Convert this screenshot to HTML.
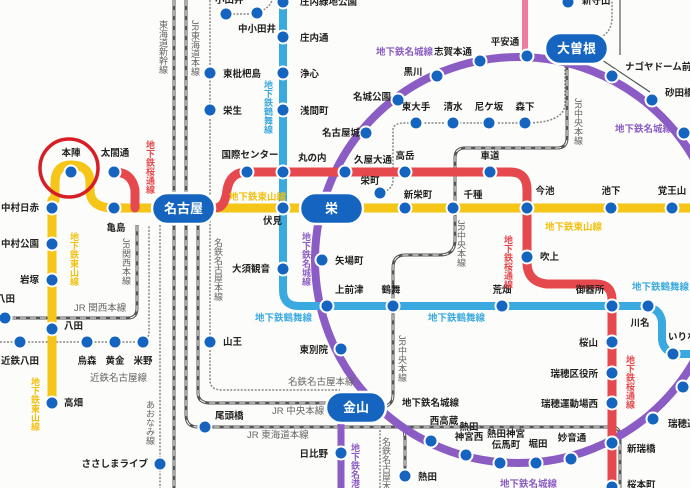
<!DOCTYPE html>
<html><head><meta charset="utf-8"><style>
html,body{margin:0;padding:0;background:#fcfcfa;}
svg{display:block;}
text{font-family:"Liberation Sans","Noto Sans CJK JP",sans-serif;font-weight:bold;font-size:9.5px;fill:#222;}
.v{writing-mode:vertical-rl;font-size:9px;}
.g{fill:#666;font-weight:normal;}
.y{fill:#f2c10f;}.r{fill:#e5484d;}.b{fill:#3aa9e0;}.p{fill:#8b5cc4;}
.pill{font-size:13px;fill:#fff;}
</style></head><body>
<svg width="690" height="488" viewBox="0 0 690 488" xmlns="http://www.w3.org/2000/svg">
<rect width="690" height="488" fill="#fcfcfa"/>
<g fill="none">
 <path d="M174 0 V488" stroke="#555" stroke-width="3"/><path d="M174 0 V488" stroke="#fff" stroke-width="1" stroke-dasharray="6,4"/>
 <path d="M186 0 V415 Q186 427 198 427 H612 Q620 427 620 437 V488" stroke="#555" stroke-width="3"/>
 <path d="M186 0 V415 Q186 427 198 427 H612 Q620 427 620 437 V488" stroke="#fff" stroke-width="1" stroke-dasharray="6,4"/>
 <path d="M198 220 V393 Q198 403 210 403 H340" stroke="#555" stroke-width="3"/>
 <path d="M198 220 V393 Q198 403 210 403 H340" stroke="#fff" stroke-width="1" stroke-dasharray="6,4"/>
 <path d="M210 0 V380 Q210 390 222 390 H340" stroke="#888" stroke-width="1.5" stroke-dasharray="2,1.5"/>
 <path d="M226 14 H257" stroke="#888" stroke-width="1.5" stroke-dasharray="2,1.5"/>
 <path d="M257 13 Q270 8 272 0" stroke="#888" stroke-width="1.5" stroke-dasharray="2,1.5"/>
 <path d="M380 430 V488" stroke="#888" stroke-width="1.5" stroke-dasharray="2,1.5"/>
 <path d="M0 318 H128 Q137 318 137 308 V225" stroke="#555" stroke-width="3"/>
 <path d="M0 318 H128 Q137 318 137 308 V225" stroke="#fff" stroke-width="1" stroke-dasharray="6,4"/>
 <path d="M0 342 H143 Q149 340 149 330 V225" stroke="#888" stroke-width="1.5" stroke-dasharray="2,1.5"/>
 <path d="M160 225 V488" stroke="#888" stroke-width="1.5" stroke-dasharray="2,1.5"/>
 <path d="M380 193 Q393 190 393 180 V130 Q393 123 405 123 H525 Q563 123 565 105 V60" stroke="#888" stroke-width="1.5" stroke-dasharray="2,1.5"/>
 <path d="M590 40 Q610 38 612 20 V0" stroke="#888" stroke-width="1.5" stroke-dasharray="2,1.5"/>
 <path d="M620 0 V55" stroke="#555" stroke-width="1.2"/>
 <path d="M567 60 V138 Q567 148 557 148 H465 Q455 148 455 158 V240 Q455 255 440 255 H405 Q393 255 393 268 V395 Q393 405 383 407" stroke="#555" stroke-width="3"/>
 <path d="M567 60 V138 Q567 148 557 148 H465 Q455 148 455 158 V240 Q455 255 440 255 H405 Q393 255 393 268 V395 Q393 405 383 407" stroke="#fff" stroke-width="1" stroke-dasharray="6,4"/>
 <path d="M590 52 L650 92" stroke="#555" stroke-width="1.2"/>
 <path d="M375 427 H400 Q405 427 405 440 V475" stroke="#555" stroke-width="3"/>
 <path d="M375 427 H400 Q405 427 405 440 V475" stroke="#fff" stroke-width="1" stroke-dasharray="6,4"/>
</g>
<g fill="none" stroke-linecap="round">
 <path d="M525 0 V56" stroke="#f07ca0" stroke-width="6"/>
 <path d="M341 410 V488" stroke="#8b5cc4" stroke-width="7"/>
 <circle cx="518" cy="260" r="203" stroke="#8b5cc4" stroke-width="8"/>
 <path d="M283 0 V290 Q283 306 299 306 H640 Q660 306 662 322 V340 Q664 354 680 354 H690" stroke="#3aa9e0" stroke-width="8"/>
 <path d="M114 208 H690" stroke="#f5c518" stroke-width="9"/>
 <path d="M114 208 Q90 208 90 190 V183 Q90 165 71 165 Q55 165 55 183 V200 M52 200 V403" stroke="#f5c518" stroke-width="9"/>
 <path d="M114 172 Q132 172 135 190 V208" stroke="#e5484d" stroke-width="9"/>
 <path d="M215 208 Q225 208 227 190 Q230 172 247 172 H510 Q527 172 527 190 V262 Q527 282 547 284 H596 Q612 284 612 300 V488" stroke="#e5484d" stroke-width="9"/>
</g>
<g>
 <rect x="152" y="193" width="63" height="31" rx="15.5" fill="#1565c0" stroke="#fff" stroke-width="2.5"/>
 <text x="183.5" y="213" text-anchor="middle" class="pill">名古屋</text>
 <rect x="300" y="193" width="63" height="31" rx="15.5" fill="#1565c0" stroke="#fff" stroke-width="2.5"/>
 <text x="331.5" y="213" text-anchor="middle" class="pill">栄</text>
 <rect x="545" y="33" width="63" height="31" rx="15.5" fill="#1565c0" stroke="#fff" stroke-width="2.5"/>
 <text x="576.5" y="53" text-anchor="middle" class="pill">大曽根</text>
 <rect x="326" y="392" width="60" height="31" rx="15.5" fill="#1565c0" stroke="#fff" stroke-width="2.5"/>
 <text x="356" y="412" text-anchor="middle" class="pill">金山</text>
</g>
<g fill="#1565c0" stroke="#fff" stroke-width="2">
<circle cx="71" cy="172" r="6.5"/><circle cx="114" cy="172" r="6.5"/><circle cx="114" cy="208" r="6.5"/>
<circle cx="52" cy="208" r="6.5"/><circle cx="52" cy="244" r="6.5"/><circle cx="52" cy="280" r="6.5"/>
<circle cx="52" cy="329" r="6.5"/><circle cx="52" cy="403" r="6.5"/><circle cx="5" cy="318" r="6.5"/>
<circle cx="20" cy="342" r="6.5"/><circle cx="87" cy="342" r="6.5"/><circle cx="115" cy="342" r="6.5"/><circle cx="143" cy="342" r="6.5"/>
<circle cx="160" cy="464" r="6.5"/><circle cx="205" cy="427" r="6.5"/><circle cx="210" cy="342" r="6.5"/>
<circle cx="210" cy="73" r="6.5"/><circle cx="210" cy="110" r="6.5"/><circle cx="226" cy="14" r="6.5"/><circle cx="257" cy="13" r="6.5"/>
<circle cx="283" cy="2" r="6.5"/><circle cx="283" cy="37" r="6.5"/><circle cx="283" cy="73" r="6.5"/><circle cx="283" cy="110" r="6.5"/>
<circle cx="283" cy="172" r="6.5"/><circle cx="283" cy="208" r="6.5"/><circle cx="283" cy="269" r="6.5"/><circle cx="247" cy="172" r="6.5"/>
<circle cx="366" cy="133" r="6.5"/><circle cx="345" cy="172" r="6.5"/><circle cx="380" cy="193" r="6.5"/>
<circle cx="405" cy="172" r="6.5"/><circle cx="405" cy="208" r="6.5"/><circle cx="453" cy="208" r="6.5"/><circle cx="490" cy="172" r="6.5"/>
<circle cx="527" cy="208" r="6.5"/><circle cx="611" cy="208" r="6.5"/><circle cx="672" cy="208" r="6.5"/>
<circle cx="416" cy="123" r="6.5"/><circle cx="453" cy="123" r="6.5"/><circle cx="489" cy="123" r="6.5"/><circle cx="525" cy="123" r="6.5"/>
<circle cx="398" cy="100" r="6.5"/><circle cx="437" cy="76" r="6.5"/><circle cx="480" cy="61" r="6.5"/><circle cx="527" cy="56" r="6.5"/>
<circle cx="568" cy="2" r="6.5"/><circle cx="612" cy="76" r="6.5"/><circle cx="652" cy="100" r="6.5"/><circle cx="684" cy="133" r="6.5"/>
<circle cx="322" cy="260" r="6.5"/><circle cx="327" cy="306" r="6.5"/><circle cx="341" cy="349" r="6.5"/>
<circle cx="341" cy="453" r="6.5"/><circle cx="405" cy="476" r="6.5"/>
<circle cx="393" cy="306" r="6.5"/><circle cx="502" cy="306" r="6.5"/><circle cx="612" cy="306" r="6.5"/><circle cx="648" cy="306" r="6.5"/><circle cx="673" cy="354" r="6.5"/>
<circle cx="527" cy="257" r="6.5"/><circle cx="612" cy="342" r="6.5"/><circle cx="612" cy="373" r="6.5"/><circle cx="612" cy="403" r="6.5"/><circle cx="612" cy="443" r="6.5"/><circle cx="612" cy="487" r="6.5"/>
<circle cx="431" cy="441" r="6.5"/><circle cx="466" cy="455" r="6.5"/><circle cx="500" cy="463" r="6.5"/><circle cx="536" cy="463" r="6.5"/><circle cx="571" cy="459" r="6.5"/><circle cx="653" cy="419" r="6.5"/><circle cx="683" cy="387" r="6.5"/>
</g>
<circle cx="69" cy="168" r="29" fill="none" stroke="#d81e25" stroke-width="3.5"/>
<g>
<text x="71" y="156" text-anchor="middle">本陣</text><text x="115" y="156" text-anchor="middle">太閤通</text><text x="116" y="231" text-anchor="middle">亀島</text>
<text x="39" y="211" text-anchor="end">中村日赤</text><text x="39" y="247" text-anchor="end">中村公園</text><text x="39" y="283" text-anchor="end">岩塚</text>
<text x="64" y="329">八田</text><text x="64" y="406">高畑</text><text x="-4" y="302">八田</text>
<text x="20" y="364" text-anchor="middle">近鉄八田</text><text x="87" y="364" text-anchor="middle">烏森</text><text x="115" y="364" text-anchor="middle">黄金</text><text x="143" y="364" text-anchor="middle">米野</text>
<text x="148" y="467" text-anchor="end">ささしまライブ</text><text x="215" y="419">尾頭橋</text><text x="223" y="345">山王</text>
<text x="223" y="77">東枇杷島</text><text x="223" y="114">栄生</text><text x="257" y="32" text-anchor="middle">中小田井</text><text x="215" y="3">小田井</text>
<text x="300" y="5">庄内緑地公園</text><text x="300" y="41">庄内通</text><text x="300" y="77">浄心</text><text x="300" y="114">浅間町</text>
<text x="250" y="158" text-anchor="middle">国際センター</text><text x="298" y="161">丸の内</text><text x="263" y="224">伏見</text><text x="270" y="272" text-anchor="end">大須観音</text>
<text x="322" y="136">名古屋城</text><text x="373" y="163" text-anchor="middle">久屋大通</text><text x="370" y="184" text-anchor="middle">栄町</text>
<text x="405" y="159" text-anchor="middle">高岳</text><text x="418" y="198" text-anchor="middle">新栄町</text><text x="473" y="198" text-anchor="middle">千種</text><text x="490" y="159" text-anchor="middle">車道</text>
<text x="545" y="194" text-anchor="middle">今池</text><text x="611" y="194" text-anchor="middle">池下</text><text x="672" y="194" text-anchor="middle">覚王山</text>
<text x="416" y="110" text-anchor="middle">東大手</text><text x="453" y="110" text-anchor="middle">清水</text><text x="489" y="110" text-anchor="middle">尼ケ坂</text><text x="525" y="110" text-anchor="middle">森下</text>
<text x="353" y="100">名城公園</text><text x="413" y="75" text-anchor="middle">黒川</text><text x="453" y="55" text-anchor="middle">志賀本通</text><text x="505" y="45" text-anchor="middle">平安通</text>
<text x="582" y="4">新守山</text><text x="625" y="70">ナゴヤドーム前矢田</text><text x="665" y="96">砂田橋</text>
<text x="335" y="264">矢場町</text><text x="335" y="293">上前津</text><text x="328" y="353" text-anchor="end">東別院</text>
<text x="328" y="457" text-anchor="end">日比野</text><text x="418" y="480">熱田</text>
<text x="391" y="293" text-anchor="middle">鶴舞</text><text x="502" y="293" text-anchor="middle">荒畑</text><text x="590" y="293" text-anchor="middle">御器所</text>
<text x="640" y="326" text-anchor="middle">川名</text><text x="668" y="340">いりなか</text><text x="540" y="260">吹上</text>
<text x="598" y="346" text-anchor="end">桜山</text><text x="598" y="377" text-anchor="end">瑞穂区役所</text><text x="598" y="407" text-anchor="end">瑞穂運動場西</text>
<text x="627" y="452">新瑞橋</text><text x="627" y="488">桜本町</text><text x="668" y="427">瑞穂運動場東</text>
<text x="402" y="406">地下鉄名城線</text>
<text x="444" y="424" text-anchor="middle">西高蔵</text><text x="469" y="430" text-anchor="middle">熱田</text><text x="469" y="440" text-anchor="middle">神宮西</text>
<text x="506" y="437" text-anchor="middle">熱田神宮</text><text x="506" y="448" text-anchor="middle">伝馬町</text><text x="538" y="447" text-anchor="middle">堀田</text><text x="572" y="441" text-anchor="middle">妙音通</text>
</g>
<g>
<text x="229" y="200" class="y">地下鉄東山線</text><text x="545" y="230" class="y">地下鉄東山線</text>
<text x="74" y="232" class="y v">地下鉄東山線</text><text x="35" y="377" class="y v">地下鉄東山線</text>
<text x="150" y="140" class="r v">地下鉄桜通線</text><text x="508" y="235" class="r v">地下鉄桜通線</text><text x="630" y="355" class="r v">地下鉄桜通線</text>
<text x="268" y="80" class="b v">地下鉄鶴舞線</text><text x="255" y="321" class="b">地下鉄鶴舞線</text><text x="428" y="321" class="b">地下鉄鶴舞線</text><text x="632" y="290" class="b">地下鉄鶴舞線</text>
<text x="376" y="55" class="p">地下鉄名城線</text><text x="615" y="132" class="p">地下鉄名城線</text><text x="306" y="232" class="p v">地下鉄名城線</text><text x="500" y="487" class="p">地下鉄名城線</text>
<text x="355" y="443" class="p v">地下鉄名港線</text>
<text x="163" y="20" class="g v">東海道新幹線</text><text x="195" y="20" class="g v">JR東海道本線</text>
<text x="126" y="238" class="g v">JR関西本線</text><text x="74" y="311" class="g">JR 関西本線</text><text x="90" y="381" class="g">近鉄名古屋線</text>
<text x="150" y="400" class="g v">あおなみ線</text><text x="218" y="238" class="g v">名鉄名古屋本線</text><text x="288" y="385" class="g">名鉄名古屋本線</text>
<text x="272" y="414" class="g">JR 中央本線</text><text x="247" y="438" class="g">JR 東海道本線</text>
<text x="578" y="98" class="g v">JR中央本線</text><text x="461" y="220" class="g v">JR中央本線</text><text x="402" y="335" class="g v">JR中央本線</text><text x="386" y="437" class="g v">名鉄名古屋本線</text>
</g>
</svg>
</body></html>
